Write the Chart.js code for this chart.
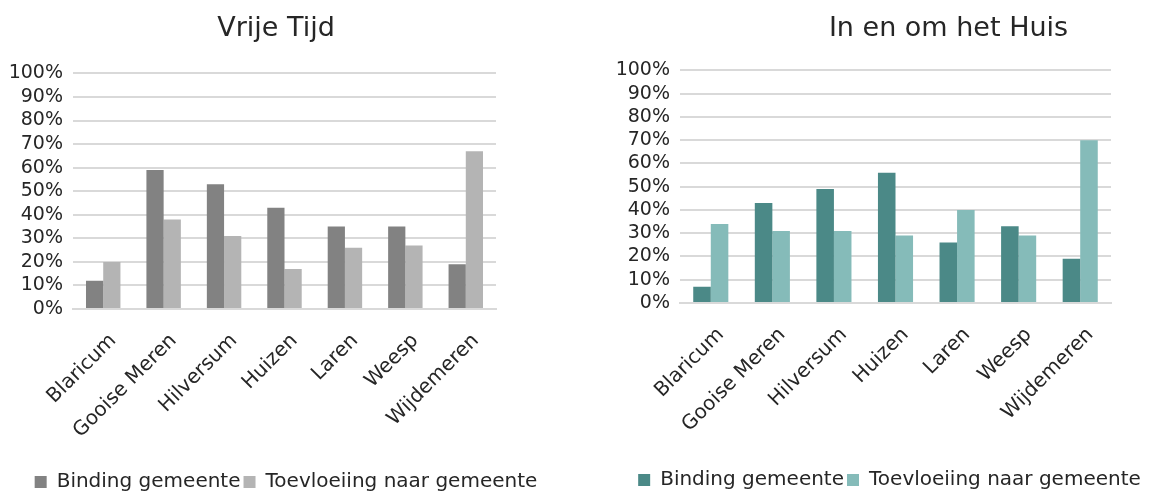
<!DOCTYPE html>
<html>
<head>
<meta charset="utf-8">
<script src="https://cdn.jsdelivr.net/npm/chart.js@4"></script>
<style>
  body { margin: 0; background: #fff; }
  .box { position: absolute; top: 0; height: 494px; }
  #left { left: 0; width: 580px; }
  #right { left: 590px; width: 569px; }
</style>
</head>
<body>
<div class="box" id="left"><canvas id="vrijeTijdChart"></canvas></div>
<div class="box" id="right"><canvas id="huisChart"></canvas></div>
<script>
// data
var gemeenten = ["Blaricum", "Gooise Meren", "Hilversum", "Huizen", "Laren", "Weesp", "Wijdemeren"];
var percentTicks = [0, 10, 20, 30, 40, 50, 60, 70, 80, 90, 100];

var vrijeTijdBinding = [12, 59, 53, 43, 35, 35, 19];
var vrijeTijdToevloeiing = [20, 38, 31, 17, 26, 27, 67];

var huisBinding = [7, 43, 49, 56, 26, 33, 19];
var huisToevloeiing = [34, 31, 31, 29, 40, 29, 70];

var font = "'DejaVu Sans', sans-serif";
Chart.defaults.font.family = font;
Chart.defaults.color = '#262626';
Chart.defaults.animation = false;

// move title and legend so they sit where the original ones are
var boxShift = {
  id: 'boxShift',
  afterLayout: function(chart, args, opts) {
    var lg = chart.legend;
    if (lg) {
      lg.left += opts.legendDx; lg.right += opts.legendDx;
      lg.top += opts.legendDy; lg.bottom += opts.legendDy;
    }
    var tb = chart.titleBlock;
    if (tb) {
      tb.left += opts.titleDx; tb.right += opts.titleDx;
    }
  }
};

function makeChart(canvas, title, binding, toevloeiing, colors, layout) {
  return new Chart(canvas, {
    type: 'bar',
    data: {
      labels: gemeenten,
      datasets: [
        { label: 'Binding gemeente', data: binding, backgroundColor: colors[0],
          categoryPercentage: 0.57, barPercentage: 1.0 },
        { label: 'Toevloeiing naar gemeente', data: toevloeiing, backgroundColor: colors[1],
          categoryPercentage: 0.57, barPercentage: 1.0 }
      ]
    },
    plugins: [boxShift],
    options: {
      responsive: true,
      maintainAspectRatio: false,
      layout: { padding: 0 },
      plugins: {
        boxShift: { legendDx: layout.legendDx, legendDy: layout.legendDy, titleDx: layout.titleDx },
        title: {
          display: true,
          text: title,
          color: '#262626',
          font: { size: 27, weight: 'normal' },
          padding: { top: 13, bottom: layout.titleBottom }
        },
        legend: {
          position: 'bottom',
          labels: {
            boxWidth: 12,
            boxHeight: 12,
            padding: 3,
            color: '#262626',
            font: { size: 20 }
          }
        },
        tooltip: { enabled: false }
      },
      scales: {
        x: {
          grid: { display: false },
          border: { color: '#d9d9d9', width: 2 },
          ticks: { minRotation: 45, maxRotation: 45, autoSkip: false, padding: 12,
                   labelOffset: 10, font: { size: 20 }, color: '#262626' },
          afterFit: function(scale) { scale.height = layout.xHeight; }
        },
        y: {
          min: 0,
          max: 100,
          afterBuildTicks: function(scale) {
            scale.ticks = percentTicks.map(function(v) { return { value: v }; });
          },
          ticks: {
            autoSkip: false,
            font: { size: 19 },
            color: '#262626',
            padding: 10,
            callback: function(v) { return v + '%'; }
          },
          grid: { color: '#d9d9d9', lineWidth: 2, drawTicks: false },
          border: { display: false },
          afterFit: function(scale) { scale.width = layout.yWidth; }
        },
        // empty axis on the right, only keeps the white margin next to the plot
        spacer: {
          type: 'linear',
          position: 'right',
          grid: { display: false },
          border: { display: false },
          ticks: { display: false },
          afterFit: function(scale) { scale.width = layout.right; }
        }
      }
    }
  });
}

var vrijeTijd = makeChart(document.getElementById('vrijeTijdChart'), 'Vrije Tijd',
  vrijeTijdBinding, vrijeTijdToevloeiing, ['#828282', '#b4b4b4'],
  { right: 84, titleBottom: 28, xHeight: 152, yWidth: 73, legendDx: -4, legendDy: 8, titleDx: -14 });

var huis = makeChart(document.getElementById('huisChart'), 'In en om het Huis',
  huisBinding, huisToevloeiing, ['#4b8987', '#85bbb9'],
  { right: 48, titleBottom: 25, xHeight: 158, yWidth: 90, legendDx: 15, legendDy: 6, titleDx: 74 });
</script>
</body>
</html>
